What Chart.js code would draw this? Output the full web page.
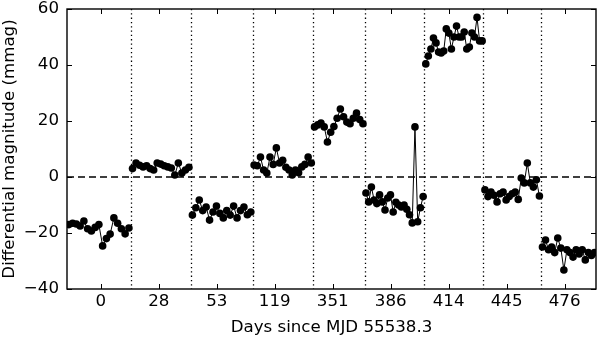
<!DOCTYPE html>
<html>
<head>
<meta charset="utf-8">
<script src="https://cdn.jsdelivr.net/npm/chart.js@4"></script>
<style>
  html, body { margin: 0; padding: 0; background: #fff; }
  canvas { display: block; }
</style>
</head>
<body>
<canvas id="chart" width="600" height="342"></canvas>
<script>
// tick labels (day of each night) and where they sit on the observation axis
const tickLabels = ['0', '28', '53', '119', '351', '386', '414', '445', '476'];
const tickPos = [7, 19, 31, 43, 55, 67, 79, 91, 103];

// borders between the observing nights (dotted lines)
const nightEdges = [0, 13.2, 25.6, 38.4, 50.9, 61.6, 74.0, 86.2, 98.1, 109.5];

// differential magnitude (mmag), one array per night
const night0 = [-17, -16.5, -16.8, -17.5, -15.7, -18.5, -19.3, -18, -17, -24.6, -22, -20.4, -14.6, -16.5, -18.5, -20.3, -18.2];
const night28 = [3, 5, 4.2, 3.6, 4, 3, 2.5, 5, 4.6, 4, 3.6, 3.2, 0.7, 5, 1.4, 2.5, 3.5];
const night53 = [-13.6, -11, -8.2, -12, -10.7, -15.4, -12.5, -10.4, -13, -14.6, -12, -13.6, -10.4, -14.6, -12, -10.7, -13.5, -12.5];
const night119 = [4.3, 4, 7.1, 2.5, 1.4, 7.1, 4.5, 10.4, 5, 6, 3.5, 2.5, 0.7, 2.5, 1.5, 3.6, 4.5, 7.1, 5];
const night351 = [17.9, 18.6, 19.3, 17.9, 12.5, 16, 18, 21, 24.3, 21.5, 19.6, 19, 21, 22.8, 20.5, 19];
const night386 = [-5.7, -8.9, -3.6, -8.2, -9.5, -6.4, -8.9, -11.8, -7.5, -6.4, -12.5, -9, -10, -10.7, -10, -11.5, -13.5, -16.4, 17.9, -16, -11, -7];
const night414 = [40.4, 43.2, 45.7, 49.6, 47.9, 44.6, 44.3, 45, 52.9, 51.4, 45.7, 50, 53.9, 50, 50, 51.8, 45.7, 46.4, 51.4, 50, 57, 48.6, 48.6];
const night445 = [-4.6, -7, -5.4, -6.5, -8.9, -6, -5.4, -8.2, -7, -6, -5.4, -8, -0.4, -2.1, 5, -2.1, -3.6, -1, -6.8];
const night476 = [-25, -22.5, -26, -25, -27, -21.8, -25.4, -33.2, -26, -27, -28.6, -26, -27.5, -26, -29.6, -27, -28, -27];

const nights = [night0, night28, night53, night119, night351, night386, night414, night445, night476];

Chart.defaults.font.family = 'DejaVu Sans';
Chart.defaults.color = '#000';

const FS = 16.67;

var datasets = nights.map(function(vals, s) {
  var lo = nightEdges[s], hi = nightEdges[s + 1];
  return {
    data: vals.map(function(v, i) {
      return { x: lo + (hi - lo) * (i + 0.5) / vals.length, y: v };
    }),
    borderColor: '#000',
    backgroundColor: '#000',
    borderWidth: 1,
    pointRadius: 3.8,
    pointBorderWidth: 0,
    tension: 0
  };
});

const decorations = {
  id: 'decorations',
  beforeDatasetsDraw(chart) {
    const ctx = chart.ctx, a = chart.chartArea;
    const x = chart.scales.x, y = chart.scales.y;
    ctx.save();
    ctx.strokeStyle = '#000';
    // night separators
    ctx.lineWidth = 1.3;
    ctx.setLineDash([1.3, 3]);
    for (let i = 1; i < nightEdges.length - 1; i++) {
      const px = Math.round(x.getPixelForValue(nightEdges[i])) + 0.5;
      ctx.beginPath();
      ctx.moveTo(px, a.top);
      ctx.lineTo(px, a.bottom);
      ctx.stroke();
    }
    // zero line
    ctx.lineWidth = 1.5;
    ctx.setLineDash([7, 4]);
    const py = y.getPixelForValue(0);
    ctx.beginPath();
    ctx.moveTo(a.left, py);
    ctx.lineTo(a.right, py);
    ctx.stroke();
    ctx.restore();
  },
  afterDraw(chart) {
    const ctx = chart.ctx, a = chart.chartArea;
    const x = chart.scales.x, y = chart.scales.y;
    ctx.save();
    ctx.strokeStyle = '#000';
    ctx.lineWidth = 1;
    const t = 5;
    tickPos.forEach(function(v) {
      const px = Math.round(x.getPixelForValue(v)) + 0.5;
      ctx.beginPath();
      ctx.moveTo(px, a.bottom); ctx.lineTo(px, a.bottom - t);
      ctx.moveTo(px, a.top); ctx.lineTo(px, a.top + t);
      ctx.stroke();
    });
    y.ticks.forEach(function(tk) {
      const py = Math.round(y.getPixelForValue(tk.value)) + 0.5;
      ctx.beginPath();
      ctx.moveTo(a.left, py); ctx.lineTo(a.left + t, py);
      ctx.moveTo(a.right, py); ctx.lineTo(a.right - t, py);
      ctx.stroke();
    });
    ctx.lineWidth = 1.4;
    ctx.strokeRect(a.left, a.top, a.right - a.left, a.bottom - a.top);
    ctx.restore();
  }
};

new Chart(document.getElementById('chart'), {
  type: 'line',
  data: { datasets: datasets },
  options: {
    responsive: false,
    animation: false,
    layout: { padding: { top: 9, right: 2, left: 0, bottom: 0 } },
    plugins: { legend: { display: false }, tooltip: { enabled: false } },
    scales: {
      x: {
        type: 'linear',
        min: 0,
        max: 109.5,
        afterBuildTicks: function(s) { s.ticks = tickPos.map(function(v) { return { value: v }; }); },
        afterFit: function(s) {
          s.height = 53;
          s.paddingLeft = 0;
          s.paddingRight = 0;
        },
        ticks: {
          autoSkip: false,
          maxRotation: 0,
          padding: 3,
          font: { size: FS },
          callback: function(value, index) { return tickLabels[index]; }
        },
        grid: { display: false, drawTicks: false },
        border: { display: false },
        title: { display: true, text: 'Days since MJD 55538.3', font: { size: FS }, padding: { top: 0, bottom: 4 } }
      },
      y: {
        min: -40,
        max: 60,
        afterFit: function(s) {
          s.width = 67;
          s.paddingTop = 0;
          s.paddingBottom = 0;
        },
        ticks: {
          stepSize: 20,
          padding: 8,
          font: { size: FS },
          callback: function(value) { return String(value).replace('-', '\u2212'); }
        },
        grid: { display: false, drawTicks: false },
        border: { display: false },
        title: { display: true, text: 'Differential magnitude (mmag)', font: { size: FS }, padding: 0 }
      }
    }
  },
  plugins: [decorations]
});
</script>
</body>
</html>
